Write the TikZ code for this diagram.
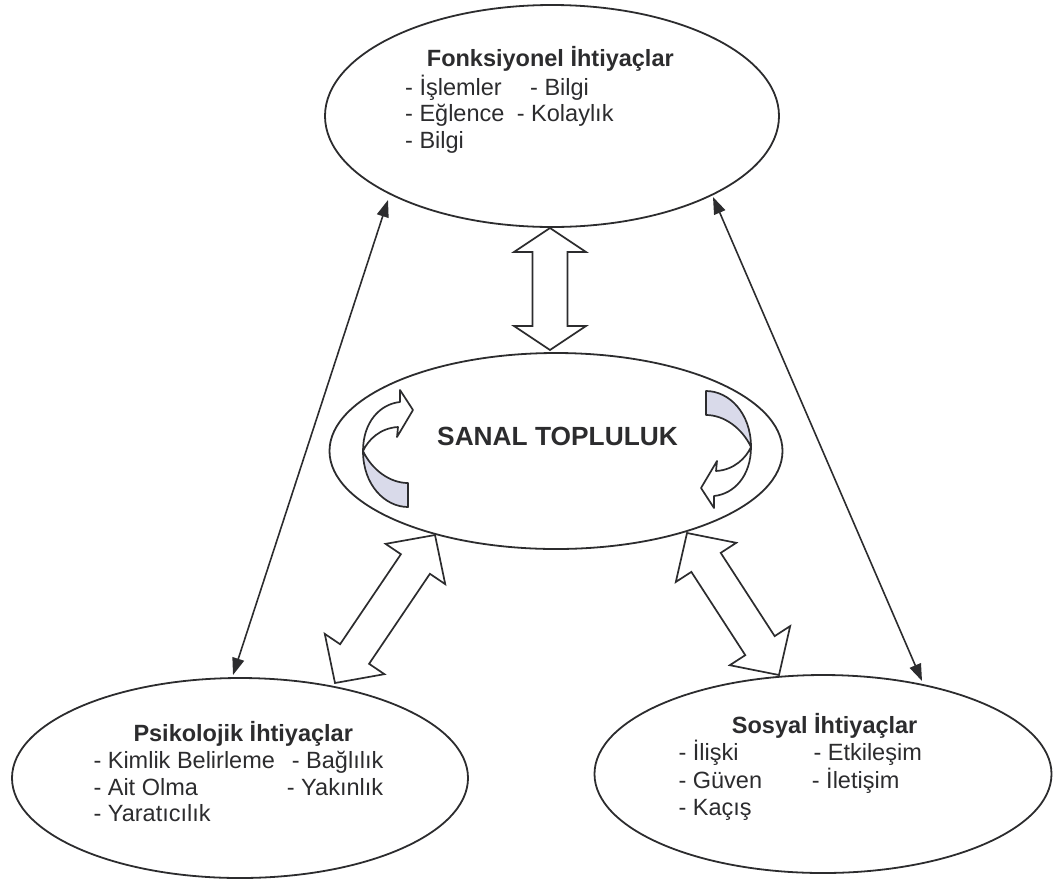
\documentclass[tikz,border=0pt]{standalone}
\usepackage{fontspec}
\setmainfont{Liberation Sans}
\usetikzlibrary{shapes.geometric,arrows.meta,calc}
\definecolor{ink}{HTML}{2C2C2E}
\definecolor{shade}{HTML}{D9DAEA}
% #1,#2 tips, #3 head length, #4 head half width, #5 shaft half width
\newcommand\dblarrow[5]{%
  \draw[hollow] (#1)
    -- ($($(#1)!#3!(#2)$)!#4!90:(#2)$)
    -- ($($(#1)!#3!(#2)$)!#5!90:(#2)$)
    -- ($($(#2)!#3!(#1)$)!#5!-90:(#1)$)
    -- ($($(#2)!#3!(#1)$)!#4!-90:(#1)$)
    -- (#2)
    -- ($($(#2)!#3!(#1)$)!#4!90:(#1)$)
    -- ($($(#2)!#3!(#1)$)!#5!90:(#1)$)
    -- ($($(#1)!#3!(#2)$)!#5!-90:(#2)$)
    -- ($($(#1)!#3!(#2)$)!#4!-90:(#2)$)
    -- cycle;}
\newcommand\curvedpiece{%
  \draw[rib,fill=shade] (-194,2) .. controls (-194,36) and (-172,58) .. (-149,58)
    -- (-149,34) .. controls (-167,34) and (-185,21) .. cycle;
  \draw[rib,fill=white] (-157,-47) -- (-157,-59) -- (-144,-39) -- (-160,-12) -- (-159,-22)
    .. controls (-177,-21) and (-189,-9) .. (-194,2)
    .. controls (-194,-27) and (-177,-45) .. cycle;}
\begin{document}
\begin{tikzpicture}[x=1pt,y=-1pt,
  ell/.style={draw=ink,line width=1.8pt,ellipse,inner sep=0pt,outer sep=0pt},
  txt/.style={text=ink,inner sep=0pt,anchor=base west,font=\fontsize{23.5}{27}\selectfont},
  ttl/.style={txt,font=\fontsize{23.5}{27}\selectfont\bfseries},
  link/.style={draw=ink,line width=1.6pt,{Triangle[length=17pt,width=12pt]}-{Triangle[length=17pt,width=12pt]}},
  hollow/.style={draw=ink,line width=1.7pt,fill=white,line join=miter},
  rib/.style={draw=ink,line width=1.7pt,line join=round}]
\useasboundingbox (0,0) rectangle (1059,879);

% ellipses
\node[ell,minimum width=454pt,minimum height=222pt] (fonk) at (552,116) {};
\node[ell,minimum width=453pt,minimum height=196pt] (sanal) at (556,451) {};
\node[ell,minimum width=456pt,minimum height=200pt] (psik) at (240,778) {};
\node[ell,minimum width=457pt,minimum height=198pt] (sos) at (823,774) {};

% connector end points
\coordinate (a1) at (388,200);
\coordinate (a2) at (233,675);
\coordinate (b1) at (713,197);
\coordinate (b2) at (922,681);
\coordinate (v1) at (550,228);
\coordinate (v2) at (550,350);
\coordinate (l1) at (435,535);
\coordinate (l2) at (335,683);
\coordinate (r1) at (687,533);
\coordinate (r2) at (779,675);

% thin double arrows
\draw[link] (a1) -- (a2);
\draw[link] (b1) -- (b2);

% hollow double arrows
\dblarrow{v1}{v2}{24pt}{36pt}{17.5pt}
\dblarrow{l1}{l2}{35pt}{36pt}{17.5pt}
\dblarrow{r1}{r2}{35pt}{36pt}{17.5pt}

% curved arrows in the centre ellipse
\begin{scope}[shift={(557,449)}]
  \curvedpiece
\end{scope}
\begin{scope}[shift={(557,449)},rotate=180]
  \curvedpiece
\end{scope}

% texts
\node[ttl] (f0) at (426.7,66.7) {Fonksiyonel İhtiyaçlar};
\node[txt] (f1) at (405,95) {- İşlemler};
\node[txt] (f2) at (530,95) {- Bilgi};
\node[txt] (f3) at (405,121.7) {- Eğlence};
\node[txt] (f4) at (516.7,121.7) {- Kolaylık};
\node[txt] (f5) at (405,148) {- Bilgi};

\node[text=ink,inner sep=0pt,anchor=base,font=\fontsize{26.3}{30}\selectfont\bfseries] (m0) at (557.5,445) {SANAL TOPLULUK};

\node[ttl] (p0) at (133.3,741.7) {Psikolojik İhtiyaçlar};
\node[txt] (p1) at (93.3,768.3) {- Kimlik Belirleme};
\node[txt] (p2) at (291.7,768.3) {- Bağlılık};
\node[txt] (p3) at (93.3,795) {- Ait Olma};
\node[txt] (p4) at (286.7,795) {- Yakınlık};
\node[txt] (p5) at (93.3,821.7) {- Yaratıcılık};

\node[ttl] (s0) at (731.7,733) {Sosyal İhtiyaçlar};
\node[txt] (s1) at (678.3,760) {- İlişki};
\node[txt] (s2) at (813.3,760) {- Etkileşim};
\node[txt] (s3) at (678.3,788) {- Güven};
\node[txt] (s4) at (811.7,788) {- İletişim};
\node[txt] (s5) at (678.3,815.5) {- Kaçış};
\end{tikzpicture}
\end{document}
